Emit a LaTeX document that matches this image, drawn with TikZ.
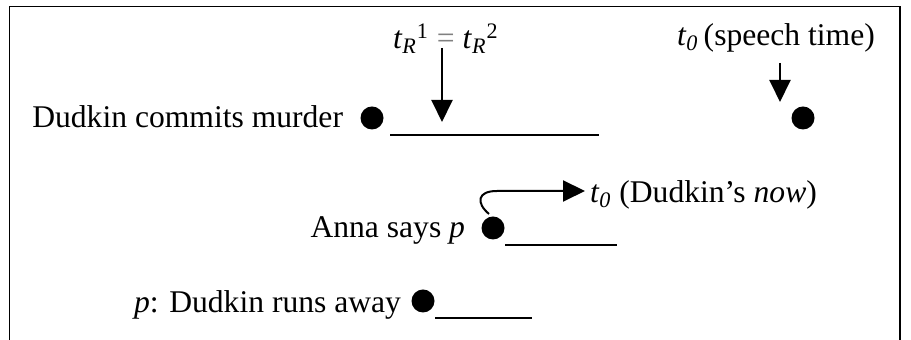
\documentclass[tikz,border=0pt]{standalone}
\usepackage{fontspec}
\setmainfont{Liberation Serif}
\usepackage{xcolor}
\usepackage{tikz}
\usetikzlibrary{positioning}
\usetikzlibrary{arrows.meta}

\begin{document}
\begin{tikzpicture}[
				x=0.5pt, y=-0.5pt,
				font=\fontsize{15.8pt}{19pt}\selectfont,
				txt/.style={
					inner sep=0pt,
					outer sep=0pt
				},
				dot/.style={
					circle,
					fill=black,
					inner sep=0pt,
					minimum size=11.5pt
				},
				tline/.style={line width=1pt},
				frame/.style={line width=0.9pt},
				arrow/.style={-{Triangle[length=11pt, width=10.5pt]}, line width=1pt}
				]
				
				\useasboundingbox (0,0) rectangle (911,340);
				
				% Marco
				\draw[frame] (9.5,340) -- (9.5,6.5) -- (900,6.5) -- (900,340);
				
				% Fila superior
				\node[dot] (murderdot) at (372,118) {};
				\node[txt, anchor=base east] (murder) at (343,128) {Dudkin commits murder};
				\coordinate (murderstart) at (390,135);
				\coordinate (murderend) at (599,135);
				\draw[tline] (murderstart) -- (murderend);
				
				\node[txt, anchor=base west] (tref) at (393,49) {\textit{t}\textsubscript{\textit{R}}\textsuperscript{1} {\color{gray}=} \textit{t}\textsubscript{\textit{R}}\textsuperscript{2}};
				\coordinate (treftop) at (442,48);
				\coordinate (trefend) at (442,122);
				
				\node[txt, anchor=base west] (speech) at (677,46) {\textit{t}\textsubscript{\textit{0}}\,(speech time)};
				\coordinate (speechtop) at (780,63);
				\coordinate (speechend) at (780,102);
				\node[dot] (speechdot) at (803,118) {};
				
				% Fila central
				\node[dot] (annadot) at (493,228) {};
				\node[txt, anchor=base east] (anna) at (465,238) {Anna says \textit{p}};
				\coordinate (annastart) at (505,245);
				\coordinate (annaend) at (617,245);
				\draw[tline] (annastart) -- (annaend);
				
				\node[txt, anchor=base west] (now) at (590,203) {\textit{t}\textsubscript{\textit{0}} (Dudkin’s \textit{now})};
				\coordinate (nowfoot) at (489,214);
				\coordinate (nowend) at (585,191);
				
				% Fila inferior
				\node[dot] (runsdot) at (423,301) {};
				\node[txt, anchor=base east] (runs) at (401,313) {\textit{p}: Dudkin runs away};
				\coordinate (runsstart) at (435,318);
				\coordinate (runsend) at (532,318);
				\draw[tline] (runsstart) -- (runsend);
				
				% Flechas
				\draw[arrow] (treftop) -- (trefend);
				\draw[arrow] (speechtop) -- (speechend);
				\draw[arrow] (nowfoot) .. controls (476,203) and (477,191) .. (497,191) -- (nowend);
				
			\end{tikzpicture}
\end{document}
